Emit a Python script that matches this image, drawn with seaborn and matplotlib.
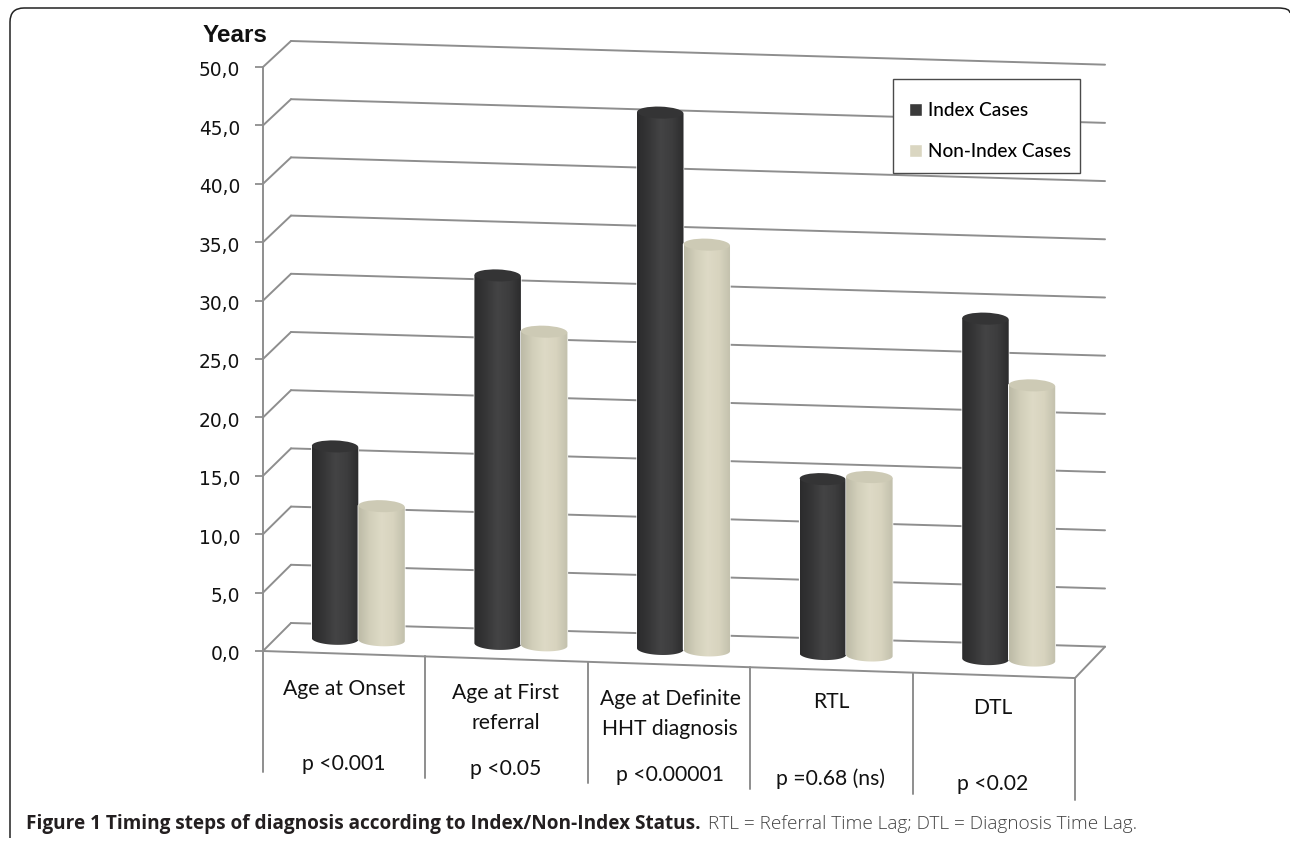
import numpy as np
import pandas as pd
import matplotlib
matplotlib.use("Agg")
import matplotlib.pyplot as plt
import seaborn as sns
from matplotlib.lines import Line2D
from matplotlib.path import Path
from matplotlib.patches import Ellipse, PathPatch, Rectangle
from matplotlib.transforms import Affine2D, IdentityTransform
from matplotlib.colors import LinearSegmentedColormap

categories = ["Age at Onset", "Age at First\nreferral", "Age at Definite\nHHT diagnosis", "RTL", "DTL"]
p_values = ["p <0.001", "p <0.05", "p <0.00001", "p =0.68 (ns)", "p <0.02"]
index_cases = [16.5, 31.6, 46.0, 15.0, 29.2]
non_index_cases = [11.5, 26.9, 34.8, 15.3, 23.6]
y_ticks = [0, 5, 10, 15, 20, 25, 30, 35, 40, 45, 50]
y_tick_labels = ["0,0", "5,0", "10,0", "15,0", "20,0", "25,0", "30,0", "35,0", "40,0", "45,0", "50,0"]
series_names = ["Index Cases", "Non-Index Cases"]
colors = ["#3a3a3a", "#dad6c1"]

W, H = 1290, 841
GRID = "#8e8e8e"
sns.set_theme(style="white")
plt.rcParams["font.family"] = ["DejaVu Sans"]

fig = plt.figure(figsize=(W / 100, H / 100), dpi=100)
ax = fig.add_axes([263 / W, (H - 651) / H, (1075 - 263) / W, (651 - 67) / H])

df = pd.DataFrame({
    "category": categories * 2,
    "years": index_cases + non_index_cases,
    "status": [series_names[0]] * 5 + [series_names[1]] * 5,
})
sns.barplot(data=df, x="category", y="years", hue="status", palette=colors,
            width=0.572, gap=0, saturation=1, ax=ax, zorder=3)
ax.set_xlim(-0.5, 4.5)
ax.set_ylim(0, 50)
ax.set_xlabel("")
ax.set_ylabel("")
ax.set_xticks([])
ax.set_yticks(y_ticks, y_tick_labels)
ax.tick_params(axis="y", length=5.8, width=1.3, color=GRID, pad=10.5, labelsize=13.4,
               labelcolor="#111111", left=True)
for label in ax.get_yticklabels():
    label.set_transform(label.get_transform() + Affine2D().translate(0, -1.8))
for side in ["top", "right", "bottom"]:
    ax.spines[side].set_visible(False)
ax.spines["left"].set_color(GRID)
ax.spines["left"].set_linewidth(1.4)
ax.patch.set_alpha(0)


def plane(d):
    """Data -> display for a plane d deep in the box (0 front, 1 back wall)."""
    y0 = H - 651
    k = 1 - 0.0034 * d
    kx = 1 + 0.0025 * d
    s = 0.0333 - 0.0042 * d
    m = Affine2D().translate(-263, -y0).scale(kx, k)
    m = Affine2D(np.array([[1, 0, 0], [-s, 1, 0], [0, 0, 1]]) @ m.get_matrix())
    m.translate(263 + 28 * d, y0 + 28 * d)
    return ax.transData + m


front, mid, back = plane(0), plane(0.5), plane(1)
line_kw = dict(color=GRID, lw=1.4, clip_on=False, zorder=1, solid_capstyle="round")


def link(x, v):
    a, b = front.transform((x, v)), back.transform((x, v))
    ax.add_line(Line2D([a[0], b[0]], [a[1], b[1]], transform=IdentityTransform(), **line_kw))


for v in y_ticks:
    ax.plot([-0.5, 4.5], [v, v], transform=back, **line_kw)
    link(-0.5, v)
link(4.5, 0)
ax.plot([-0.5, 4.5], [0, 0], transform=front, **line_kw)
for x in np.arange(-0.5, 5):
    ax.plot([x, x], [0, -10.4], transform=front, **line_kw)

# cylinders built from the bars that seaborn drew
ramps = [
    LinearSegmentedColormap.from_list("d", ["#2b2b2c", "#363637", "#444445", "#3d3d3e", "#2c2c2d"]),
    LinearSegmentedColormap.from_list("l", ["#bcbaa6", "#d2cfba", "#dedac6", "#d8d4bf", "#c2c0ac"]),
]
caps = ["#343435", "#cdcab5"]
rim = 6 / ax.get_window_extent().height * 50
grad = np.linspace(0, 1, 128).reshape(1, -1)
for series, container in enumerate(ax.containers):
    for bar in container:
        x, w, h = bar.get_x(), bar.get_width(), bar.get_height()
        bar.set_transform(mid)
        bar.set_clip_on(False)
        bar.set_zorder(3 + series)
        bar.set_facecolor("none")
        t = np.linspace(np.pi, 2 * np.pi, 40)
        low = np.column_stack([x + w / 2 + w / 2 * np.cos(t), rim * np.sin(t)])
        top = np.array([[x + w, h], [x, h]])
        body = Path(np.vstack([low, top, low[:1]]), closed=True)
        im = ax.imshow(grad, cmap=ramps[series], extent=[x, x + w, -2 * rim, h], aspect="auto",
                       zorder=3 + series, interpolation="bilinear")
        im.set_transform(mid)
        im.set_clip_path(body, transform=mid)
        im.set_clip_box(fig.bbox)
        ax.add_patch(Ellipse((x + w / 2, h), w * 0.995, 2 * rim, facecolor=caps[series], edgecolor="none",
                             transform=mid, clip_on=False, zorder=3.5 + series))
ax.set_xlim(-0.5, 4.5)
ax.set_ylim(0, 50)

# legend box drawn separately so its padding can be uneven, as in the source
ax.add_patch(Rectangle((893 / W, 1 - 173 / H), 187 / W, 94 / H, transform=fig.transFigure, facecolor="white",
                       edgecolor="#4a4a4a", lw=1.0, clip_on=False, zorder=9))
sns.move_legend(ax, "upper left", bbox_to_anchor=(909 / W, 1 - 102 / H), bbox_transform=fig.transFigure,
                title=None, frameon=False, borderaxespad=0, borderpad=0, labelspacing=1.26,
                handlelength=0.68, handleheight=0.68, handletextpad=0.32,
                prop={"family": "Lato", "size": 13.7, "weight": "medium"}, labelcolor="#000000")
ax.get_legend().set_zorder(10)


def px(x, y, s, **kw):
    return fig.text(x / W, 1 - y / H, s, ha=kw.pop("ha", "center"), va="center", **kw)


px(235, 35, "Years", family="Liberation Sans", weight="bold", fontsize=17.5, color="#111111")

label_kw = dict(family="Lato", fontsize=15.2, color="#111111", linespacing=1.6)
label_pos = [(344, 689), (506, 708), (670, 714), (831, 702), (993, 708)]
p_pos = [(344, 764), (506, 769), (670, 775), (831, 779), (993, 784)]
for name, pos in zip(categories, label_pos):
    px(pos[0], pos[1], name, **label_kw)
for name, pos in zip(p_values, p_pos):
    px(pos[0], pos[1], name, **label_kw)

# rounded frame: left and top edges only
fx = lambda v: v / W
fy = lambda v: 1 - v / H
frame = Path([(fx(10), fy(838)), (fx(10), fy(22)), (fx(10), fy(8)), (fx(24), fy(8)), (fx(1278), fy(8)),
              (fx(1290), fy(8)), (fx(1290), fy(13))],
             [Path.MOVETO, Path.LINETO, Path.CURVE3, Path.CURVE3, Path.LINETO, Path.CURVE3, Path.CURVE3])
fig.add_artist(PathPatch(frame, transform=fig.transFigure, facecolor="none", edgecolor="#222222", lw=1.1))

cap1 = px(26, 824, "Figure 1 Timing steps of diagnosis according to Index/Non-Index Status.", ha="left",
          family="Open Sans", weight="bold", fontsize=13.7, color="#231f20")
fig.canvas.draw()
end = cap1.get_window_extent().x1
px(end + 7, 824, "RTL = Referral Time Lag; DTL = Diagnosis Time Lag.", ha="left",
   family="Open Sans", weight="light", fontsize=13.65, color="#444444")

fig.savefig("out.png", dpi=100)
